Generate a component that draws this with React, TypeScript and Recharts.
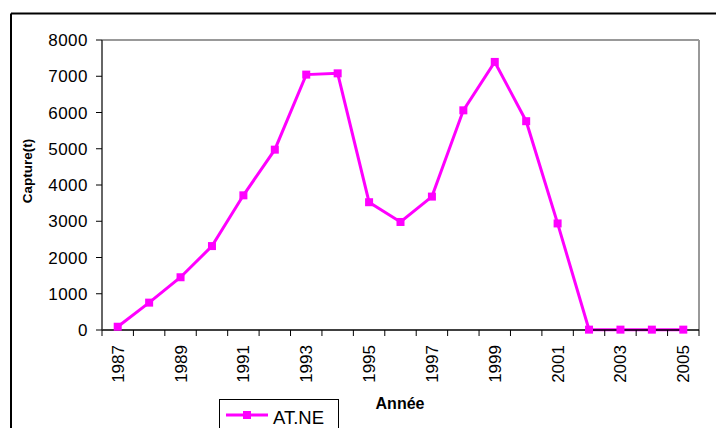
import React from 'react';
import { LineChart, Line, XAxis, YAxis, ReferenceLine } from 'recharts';

// Catch per year, AT.NE
const YEARS = [1987, 1988, 1989, 1990, 1991, 1992, 1993, 1994, 1995, 1996, 1997, 1998, 1999, 2000, 2001, 2002, 2003, 2004, 2005];
const CAPTURE = [90, 755, 1455, 2315, 3715, 4975, 7045, 7080, 3525, 2980, 3680, 6060, 7395, 5760, 2940, 10, 10, 10, 10];
const Y_TICKS = [0, 1000, 2000, 3000, 4000, 5000, 6000, 7000, 8000];
const SERIES_NAME = 'AT.NE';

const FONT = '"Liberation Sans", Arial, sans-serif';
const MAGENTA = '#FF00FF';

const data = YEARS.map((year, i) => ({ year, capture: CAPTURE[i] }));
// ticks at the category centres (labels) and at the boundaries (tick marks)
const xMin = YEARS[0] - 0.5;
const xMax = YEARS[YEARS.length - 1] + 0.5;
const xTicks: number[] = [xMin];
YEARS.forEach((y) => xTicks.push(y, y + 0.5));

const XTick = (props: any) => {
  const { x, y, payload } = props;
  const v = payload.value as number;
  if (!Number.isInteger(v)) {
    return <line x1={x} x2={x} y1={y - 6} y2={y} stroke="#000" strokeWidth={1} />;
  }
  if ((v - YEARS[0]) % 2 !== 0) return <g />;
  const tx = x + 6;
  const ty = y + 9;
  return (
    <text x={tx} y={ty} transform={`rotate(-90, ${tx}, ${ty})`} textAnchor="end" fontSize={17} fontFamily={FONT} fill="#000">
      {v}
    </text>
  );
};

const SquareDot = (props: any) => {
  const { cx, cy } = props;
  if (cx == null || cy == null) return <g />;
  return <rect x={cx - 4} y={cy - 4} width={8} height={8} fill={MAGENTA} />;
};

export default function App() {
  return (
    <div style={{ position: 'absolute', left: 0, top: 0, width: 716, height: 428, background: '#fff', overflow: 'hidden' }}>
      <LineChart width={716} height={428} data={data} margin={{ top: 40, right: 17, left: 42, bottom: 0 }}>
        <XAxis
          dataKey="year"
          type="number"
          domain={[xMin, xMax]}
          ticks={xTicks}
          interval={0}
          tick={<XTick />}
          tickLine={false}
          tickSize={6}
          tickMargin={0}
          height={98}
          axisLine={{ stroke: '#000', strokeWidth: 1.5 }}
        />
        <YAxis
          domain={[0, 8000]}
          ticks={Y_TICKS}
          interval={0}
          width={60}
          tickSize={6}
          tickMargin={8}
          tickLine={{ stroke: '#000' }}
          axisLine={{ stroke: '#333', strokeWidth: 1.5 }}
          tick={{ fontSize: 17, fontFamily: FONT, fill: '#000', letterSpacing: 0.5 }}
        />
        <ReferenceLine y={8000} stroke="#999" strokeWidth={2} />
        <ReferenceLine x={xMax} stroke="#999" strokeWidth={2} />
        <Line
          dataKey="capture"
          name={SERIES_NAME}
          stroke={MAGENTA}
          strokeWidth={3}
          dot={<SquareDot />}
          activeDot={false}
          isAnimationActive={false}
        />
      </LineChart>
      <svg width={716} height={428} style={{ position: 'absolute', left: 0, top: 0, pointerEvents: 'none' }}>
        <line x1={11} x2={716} y1={13.5} y2={13.5} stroke="#000" strokeWidth={2} />
        <line x1={11} x2={11} y1={13.5} y2={428} stroke="#000" strokeWidth={2} />
        <text x={27} y={171} transform="rotate(-90, 27, 171)" textAnchor="middle" dominantBaseline="central" fontSize={13.5} fontWeight="bold" fontFamily={FONT}>
          Capture(t)
        </text>
        <text x={400} y={409} textAnchor="middle" fontSize={16} fontWeight="bold" fontFamily={FONT}>
          Année
        </text>
        <rect x={219.5} y={399.5} width={119} height={40} fill="#fff" stroke="#000" strokeWidth={1} />
        <line x1={226} x2={268} y1={415} y2={415} stroke={MAGENTA} strokeWidth={3} />
        <rect x={243} y={411} width={8} height={8} fill={MAGENTA} />
        <text x={273} y={424} fontSize={18.5} fontFamily={FONT}>
          {SERIES_NAME}
        </text>
      </svg>
    </div>
  );
}
